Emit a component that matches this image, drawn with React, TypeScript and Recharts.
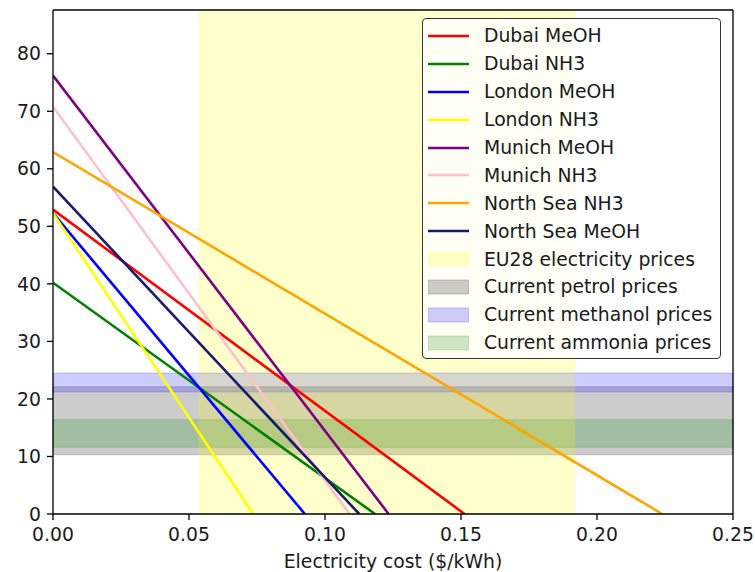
import {
  ComposedChart,
  Line,
  ReferenceArea,
  ReferenceLine,
  XAxis,
  YAxis,
} from "recharts";

const seriesNames = [
  "Dubai MeOH",
  "Dubai NH3",
  "London MeOH",
  "London NH3",
  "Munich MeOH",
  "Munich NH3",
  "North Sea NH3",
  "North Sea MeOH",
];
const seriesColors = [
  "#ff0000",
  "#008000",
  "#0000ff",
  "#ffff00",
  "#800080",
  "#ffc0cb",
  "#ffa500",
  "#191970",
];
// cost at zero electricity price, and electricity price where cost reaches 0
const costAtZero = [52.9, 40.2, 52.3, 52.3, 76.2, 70.8, 62.9, 56.9];
const breakEvenCost = [0.1513, 0.1184, 0.0926, 0.0736, 0.1234, 0.109, 0.224, 0.1126];

const electricityBand = [0.0534, 0.192];
const petrolBand = [10.3, 22.1];
const methanolBand = [21.2, 24.5];
const ammoniaBand = [11.6, 16.4];

const xTicks = [0, 0.05, 0.1, 0.15, 0.2, 0.25];
const yTicks = [0, 10, 20, 30, 40, 50, 60, 70, 80];
const Y_MAX = 87.6;

const bandLegend = [
  { label: "EU28 electricity prices", color: "#ffff00" },
  { label: "Current petrol prices", color: "#808080" },
  { label: "Current methanol prices", color: "#0000ff" },
  { label: "Current ammonia prices", color: "#008000" },
];

const FONT = "'DejaVu Sans', sans-serif";
const FS = 18.8;
const TEXT = "#1a1a1a";

function LegendBox() {
  return (
    <div
      style={{
        position: "absolute",
        left: 422,
        top: 18,
        width: 299,
        height: 341,
        border: "1.3px solid #333",
        borderRadius: 4,
        background: "rgba(255,255,255,0.8)",
        fontFamily: FONT,
        fontSize: FS,
        color: TEXT,
        boxSizing: "border-box",
        paddingTop: 3,
        whiteSpace: "nowrap",
      }}
    >
      {seriesNames.map((name, i) => (
        <div key={name} style={{ height: 27.9, display: "flex", alignItems: "center" }}>
          <svg width={61} height={14} style={{ flex: "none" }}>
            <line x1={5} x2={46} y1={7} y2={7} stroke={seriesColors[i]} strokeWidth={2.6} />
          </svg>
          <span>{name}</span>
        </div>
      ))}
      {bandLegend.map((b) => (
        <div key={b.label} style={{ height: 27.9, display: "flex", alignItems: "center" }}>
          <svg width={61} height={16} style={{ flex: "none" }}>
            <rect
              x={5.5}
              y={1}
              width={40}
              height={14}
              fill={b.color}
              fillOpacity={b.color === "#808080" ? 0.4 : 0.2}
              stroke={b.color}
              strokeOpacity={b.color === "#808080" ? 0.4 : 0.2}
            />
          </svg>
          <span>{b.label}</span>
        </div>
      ))}
    </div>
  );
}

export default function App() {
  return (
    <div style={{ position: "absolute", left: 0, top: 0, width: 755, height: 572, background: "#fff" }}>
      <ComposedChart
        width={755}
        height={572}
        margin={{ top: 10, right: 22, left: 0, bottom: 0 }}
        style={{ fontFamily: FONT }}
      >
        <XAxis
          type="number"
          dataKey="x"
          domain={[0, 0.25]}
          ticks={xTicks}
          tickFormatter={(v: number) => v.toFixed(2)}
          allowDataOverflow
          height={58}
          tick={{ fontSize: FS, fill: TEXT }}
          tickSize={6}
          tickMargin={8}
          axisLine={{ stroke: "#000", strokeWidth: 1.3 }}
          tickLine={{ stroke: "#000", strokeWidth: 1.3 }}
          label={{
            value: "Electricity cost ($/kWh)",
            position: "insideBottom",
            offset: 4,
            style: { fontSize: FS, fill: TEXT },
          }}
        />
        <YAxis
          type="number"
          dataKey="y"
          domain={[0, Y_MAX]}
          ticks={yTicks}
          allowDataOverflow
          width={53}
          tick={{ fontSize: FS, fill: TEXT }}
          tickSize={6}
          tickMargin={6}
          axisLine={{ stroke: "#000", strokeWidth: 1.3 }}
          tickLine={{ stroke: "#000", strokeWidth: 1.3 }}
        />
        <ReferenceArea
          y1={petrolBand[0]}
          y2={petrolBand[1]}
          fill="#808080"
          fillOpacity={0.4}
          stroke="#808080"
          strokeOpacity={0.4}
        />
        <ReferenceArea
          y1={methanolBand[0]}
          y2={methanolBand[1]}
          fill="#0000ff"
          fillOpacity={0.2}
          stroke="#0000ff"
          strokeOpacity={0.2}
        />
        <ReferenceArea
          y1={ammoniaBand[0]}
          y2={ammoniaBand[1]}
          fill="#008000"
          fillOpacity={0.2}
          stroke="#008000"
          strokeOpacity={0.2}
        />
        <ReferenceArea
          x1={electricityBand[0]}
          x2={electricityBand[1]}
          y1={0}
          y2={Y_MAX}
          fill="#ffff00"
          fillOpacity={0.2}
        />
        {seriesNames.map((name, i) => (
          <Line
            key={name}
            name={name}
            type="linear"
            data={[
              { x: 0, y: costAtZero[i] },
              { x: breakEvenCost[i], y: 0 },
            ]}
            dataKey="y"
            stroke={seriesColors[i]}
            strokeWidth={2.6}
            dot={false}
            activeDot={false}
            isAnimationActive={false}
          />
        ))}
        <ReferenceLine y={Y_MAX} stroke="#000" strokeWidth={1.3} />
        <ReferenceLine x={0.25} stroke="#000" strokeWidth={1.3} />
      </ComposedChart>
      <LegendBox />
    </div>
  );
}
